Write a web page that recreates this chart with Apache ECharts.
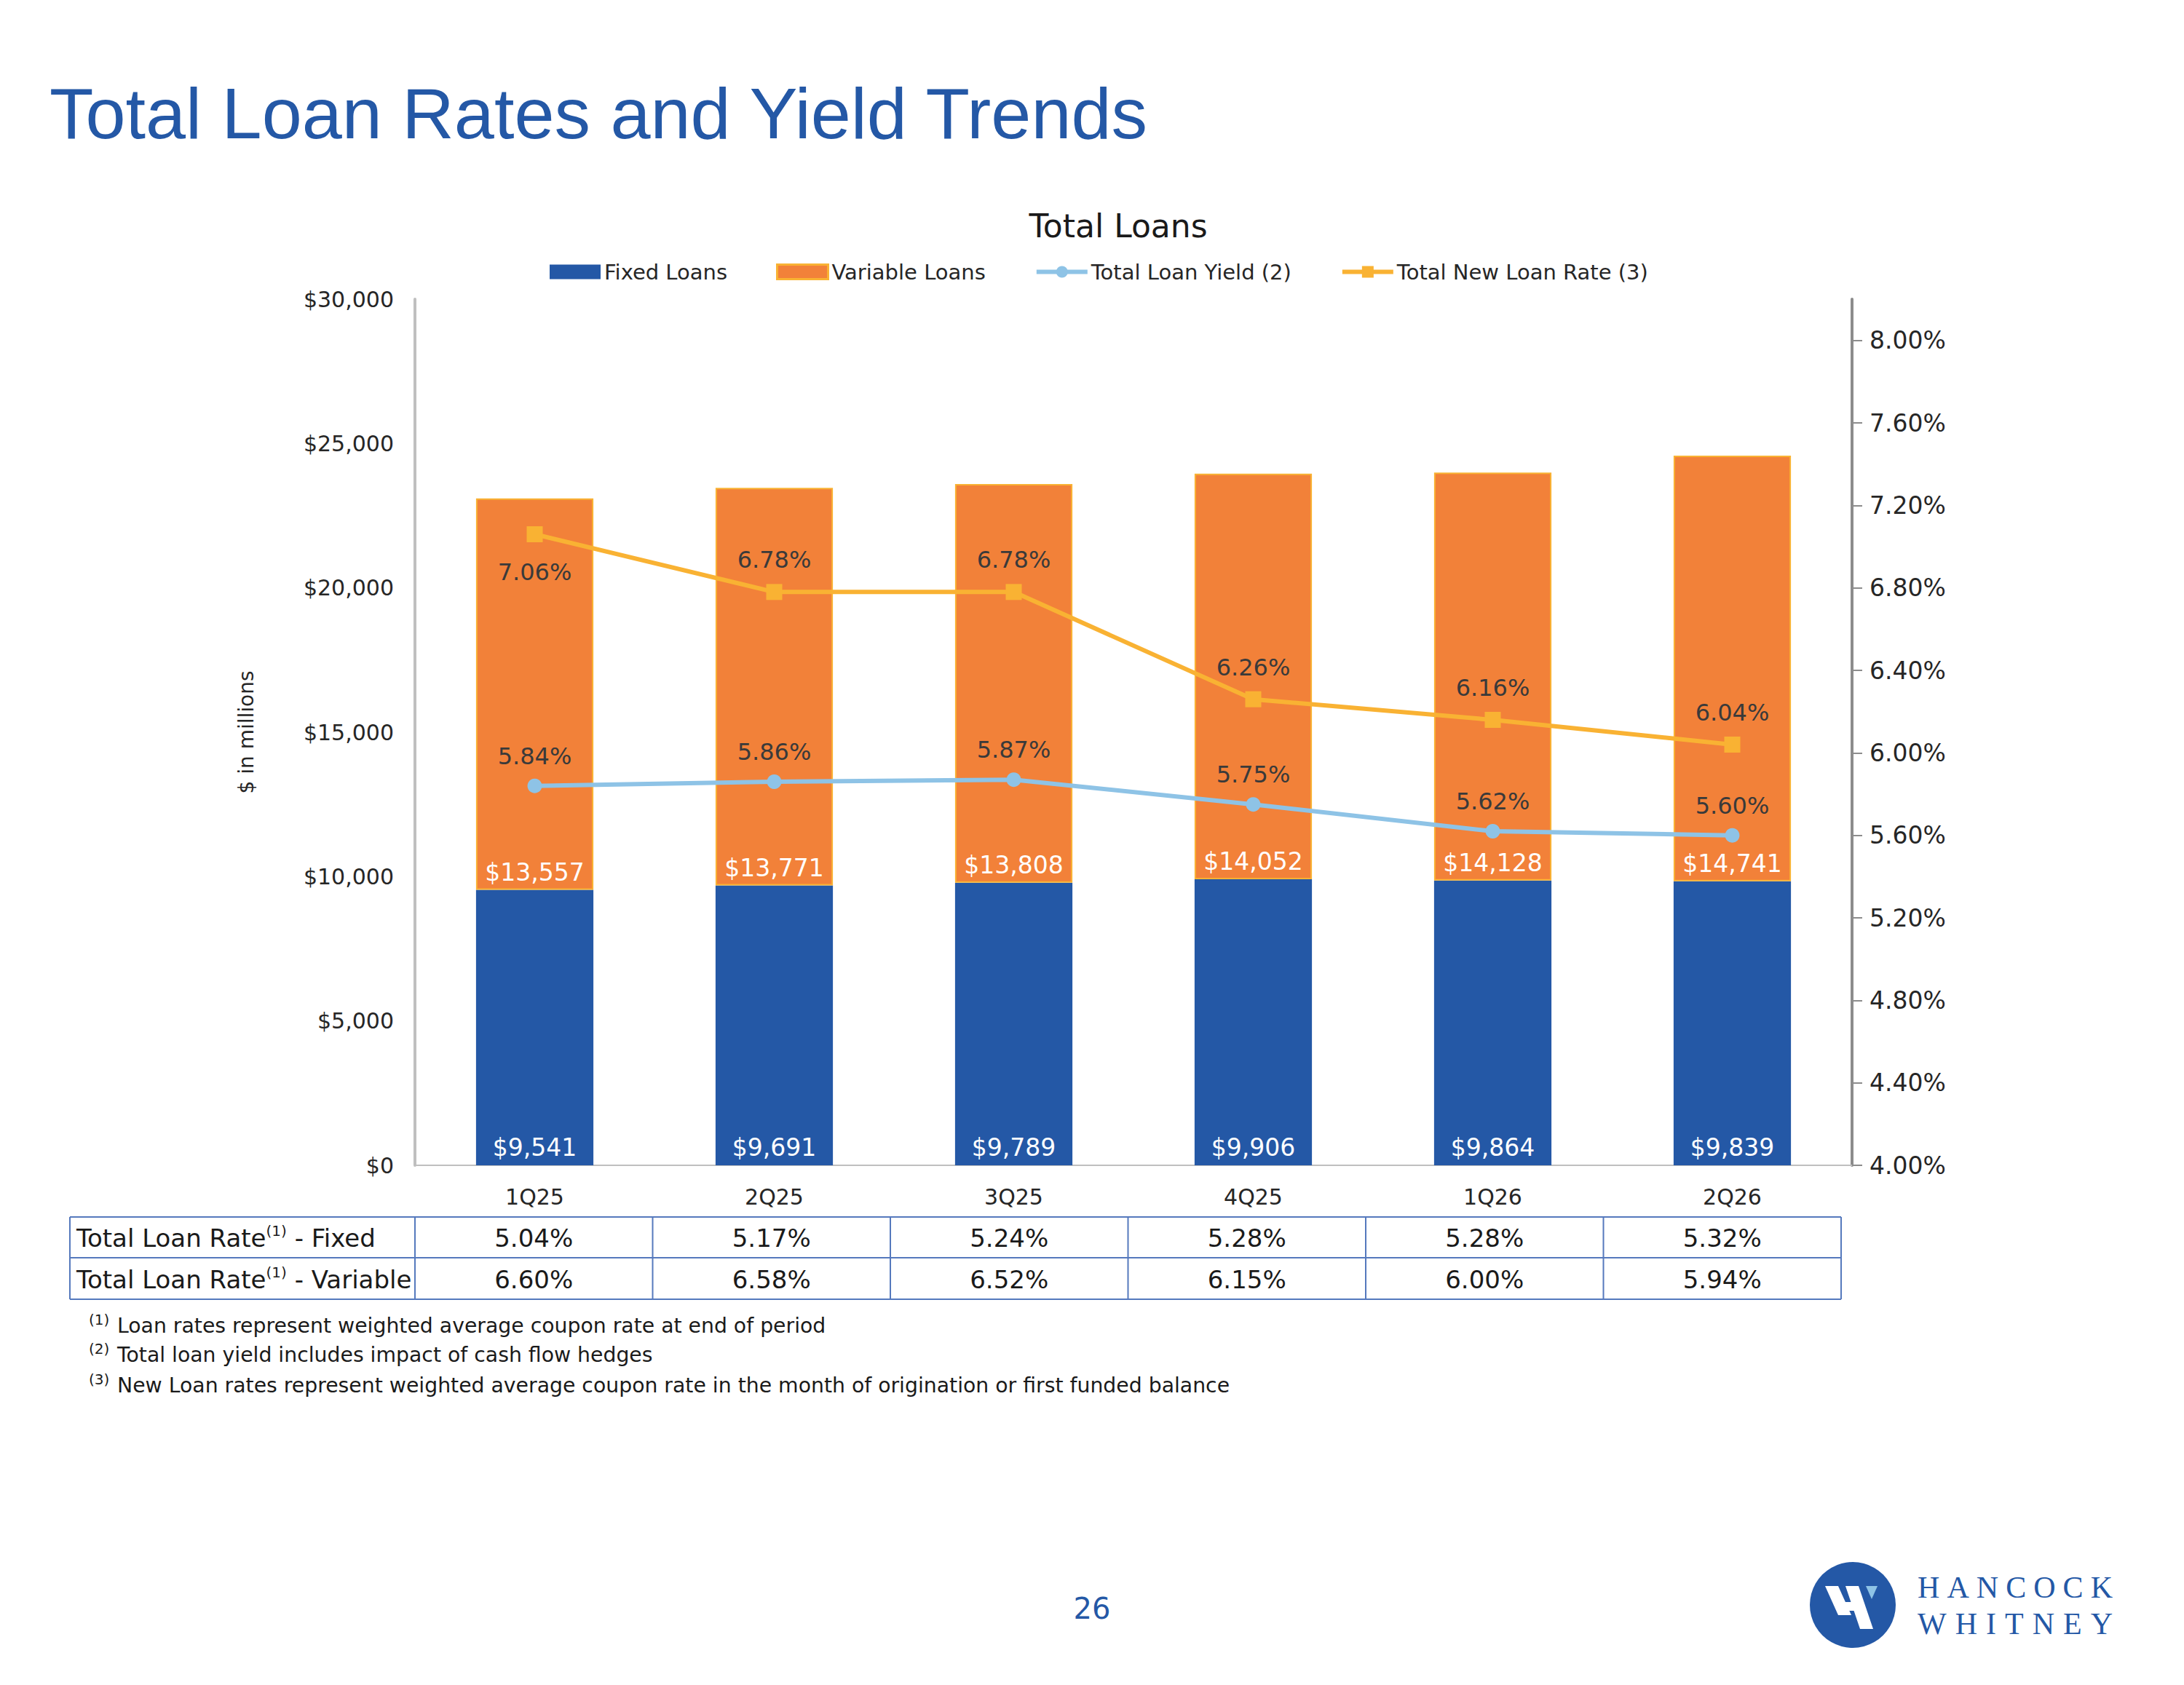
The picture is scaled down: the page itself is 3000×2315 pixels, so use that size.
<!DOCTYPE html>
<html><head><meta charset="utf-8">
<script src="https://cdn.jsdelivr.net/npm/echarts@6/dist/echarts.min.js"></script>
<style>html,body{margin:0;padding:0;background:#fff}#c{width:3000px;height:2315px}</style>
</head><body><div id="c"></div>
<script>
// ---- data ----
const categories = ['1Q25', '2Q25', '3Q25', '4Q25', '1Q26', '2Q26'];
const fixedLoans = [9541, 9691, 9789, 9906, 9864, 9839];
const variableLoans = [13557, 13771, 13808, 14052, 14128, 14741];
const totalLoanYield = [5.84, 5.86, 5.87, 5.75, 5.62, 5.60];
const totalNewLoanRate = [7.06, 6.78, 6.78, 6.26, 6.16, 6.04];
const fixedLoanRate = [5.04, 5.17, 5.24, 5.28, 5.28, 5.32];
const variableLoanRate = [6.60, 6.58, 6.52, 6.15, 6.00, 5.94];
const leftTicks = [0, 5000, 10000, 15000, 20000, 25000, 30000];
const rightTicks = [4.0, 4.4, 4.8, 5.2, 5.6, 6.0, 6.4, 6.8, 7.2, 7.6, 8.0];
const tableRowLabels = ['Total Loan Rate{sup|(1)} - Fixed', 'Total Loan Rate{sup|(1)} - Variable'];
const footnotes = [
  ['(1)', 'Loan rates represent weighted average coupon rate at end of period'],
  ['(2)', 'Total loan yield includes impact of cash flow hedges'],
  ['(3)', 'New Loan rates represent weighted average coupon rate in the month of origination or first funded balance']
];

// ---- style ----
const FONT = '"DejaVu Sans", "Liberation Sans", sans-serif';
const TFONT = '"Liberation Sans", Arial, sans-serif';
const SFONT = '"Liberation Serif", "DejaVu Serif", serif';
const TXT = '#262626';
const BLUE = '#2458a6';
const ORANGE = '#f28139';
const GOLD = '#f9b233';
const LBLUE = '#8ec3e6';

const pct = v => v.toFixed(2) + '%';
const usd = v => '$' + v.toLocaleString('en-US');

const chart = echarts.init(document.getElementById('c'), null, {renderer: 'svg', width: 3000, height: 2315});

const option = {
  animation: false,
  backgroundColor: '#ffffff',
  textStyle: {fontFamily: FONT},
  grid: {left: 570, right: 456, top: 411, bottom: 714, containLabel: false},
  legend: {
    left: 750, top: 354, itemWidth: 70, itemHeight: 20, itemGap: 67,
    textStyle: {fontSize: 29, color: TXT, fontFamily: FONT},
    data: [
      {name: 'Fixed Loans', icon: 'rect'},
      {name: 'Variable Loans', icon: 'rect', itemStyle: {borderWidth: 3}},
      {name: 'Total Loan Yield (2)', lineStyle: {width: 6}, itemStyle: {borderWidth: 0}},
      {name: 'Total New Loan Rate (3)', lineStyle: {width: 6}, itemStyle: {borderWidth: 0}}
    ]
  },
  xAxis: {
    type: 'category', data: categories,
    axisLine: {lineStyle: {color: '#bfbfbf', width: 2}},
    axisTick: {show: false},
    axisLabel: {fontSize: 30, color: TXT, margin: 28, fontFamily: FONT}
  },
  yAxis: [
    {
      type: 'value', min: 0, max: 30000, interval: 5000,
      name: '$ in millions', nameLocation: 'middle', nameGap: 218, nameRotate: 90,
      nameTextStyle: {fontSize: 28, color: TXT, fontFamily: FONT},
      axisLine: {show: true, lineStyle: {color: '#bfbfbf', width: 4}},
      axisTick: {show: false},
      splitLine: {show: false},
      axisLabel: {fontSize: 30, color: TXT, margin: 29, fontFamily: FONT, formatter: v => usd(v)}
    },
    {
      type: 'value', position: 'right', min: 4, max: 8.2, interval: 0.4,
      axisLine: {show: true, lineStyle: {color: '#8c8c8c', width: 4}},
      axisTick: {show: true, length: 14, lineStyle: {color: '#8c8c8c', width: 2}, customValues: rightTicks},
      splitLine: {show: false},
      axisLabel: {customValues: rightTicks, fontSize: 33, color: TXT, margin: 24, fontFamily: FONT, formatter: v => pct(v)}
    }
  ],
  series: [
    {
      name: 'Fixed Loans', type: 'bar', stack: 'loans', barWidth: '49%',
      data: fixedLoans,
      itemStyle: {color: BLUE},
      label: {show: true, position: 'insideBottom', distance: 8, color: '#ffffff', fontSize: 33, fontFamily: FONT, formatter: p => usd(p.value)}
    },
    {
      name: 'Variable Loans', type: 'bar', stack: 'loans', barWidth: '49%',
      data: variableLoans,
      itemStyle: {color: ORANGE, borderColor: GOLD, borderWidth: 2},
      label: {show: true, position: 'insideBottom', distance: 8, color: '#ffffff', fontSize: 33, fontFamily: FONT, formatter: p => usd(p.value)}
    },
    {
      name: 'Total Loan Yield (2)', type: 'line', yAxisIndex: 1,
      data: totalLoanYield,
      symbol: 'circle', symbolSize: 20,
      lineStyle: {color: LBLUE, width: 6},
      itemStyle: {color: LBLUE},
      label: {show: true, position: 'top', distance: 15, color: '#3a3a3a', fontSize: 32, fontFamily: FONT, formatter: p => pct(p.value)},
      z: 5
    },
    {
      name: 'Total New Loan Rate (3)', type: 'line', yAxisIndex: 1,
      data: totalNewLoanRate.map((v, i) => i === 0 ? {value: v, label: {position: 'bottom', distance: 25}} : v),
      symbol: 'rect', symbolSize: 22,
      lineStyle: {color: GOLD, width: 6},
      itemStyle: {color: GOLD},
      label: {show: true, position: 'top', distance: 17, color: '#3a3a3a', fontSize: 32, fontFamily: FONT, formatter: p => pct(p.value)},
      z: 5
    }
  ]
};
chart.setOption(option);

// ---- page elements (title, table, notes, logo) ----
const centers = categories.map((c, i) => chart.convertToPixel({xAxisIndex: 0}, i));
const band = centers[1] - centers[0];
const plotLeft = centers[0] - band / 2;
const tableLeft = 96, tableRight = 2529;
const colW = (tableRight - plotLeft) / categories.length;
const rowY = [1672, 1728, 1785];
const LINE = '#5579bd';

const g = [];
// main title
g.push({type: 'text', z: 10, style: {text: 'Total Loan Rates and Yield Trends', x: 68, y: 155, fill: BLUE,
  font: '99px ' + TFONT, textAlign: 'left', textVerticalAlign: 'middle', align: 'left', verticalAlign: 'middle'}});
// chart title
g.push({type: 'text', z: 10, style: {text: 'Total Loans', x: 1536, y: 310, fill: '#1a1a1a',
  font: '44px ' + FONT, textAlign: 'center', textVerticalAlign: 'middle', align: 'center', verticalAlign: 'middle'}});

// table lines
rowY.forEach(y => g.push({type: 'line', z: 10, shape: {x1: tableLeft, y1: y, x2: tableRight, y2: y}, style: {stroke: LINE, lineWidth: 2}}));
g.push({type: 'line', z: 10, shape: {x1: tableLeft, y1: rowY[0], x2: tableLeft, y2: rowY[2]}, style: {stroke: LINE, lineWidth: 2}});
for (let i = 0; i <= categories.length; i++) {
  const x = plotLeft + i * colW;
  g.push({type: 'line', z: 10, shape: {x1: x, y1: rowY[0], x2: x, y2: rowY[2]}, style: {stroke: LINE, lineWidth: 2}});
}
// table text
const rows = [fixedLoanRate, variableLoanRate];
rows.forEach((vals, r) => {
  const cy = (rowY[r] + rowY[r + 1]) / 2 + 1;
  g.push({type: 'text', z: 11, style: {text: tableRowLabels[r], x: 105, y: cy, fill: '#1a1a1a',
    fontSize: 34, fontFamily: FONT, textAlign: 'left', textVerticalAlign: 'middle', align: 'left', verticalAlign: 'middle',
    rich: {sup: {fontSize: 20, fontFamily: FONT, fill: '#1a1a1a', verticalAlign: 'top', lineHeight: 40}}}});
  vals.forEach((v, i) => {
    g.push({type: 'text', z: 11, style: {text: pct(v), x: plotLeft + (i + 0.5) * colW, y: cy, fill: '#1a1a1a',
      fontSize: 34, fontFamily: FONT, textAlign: 'center', textVerticalAlign: 'middle', align: 'center', verticalAlign: 'middle'}});
  });
});
// footnotes
const fnY = [1821, 1861, 1903];
footnotes.forEach((f, i) => {
  g.push({type: 'text', z: 11, style: {text: f[0], x: 122, y: fnY[i] - 8, fill: '#1a1a1a', fontSize: 20, fontFamily: FONT,
    textAlign: 'left', textVerticalAlign: 'middle', align: 'left', verticalAlign: 'middle'}});
  g.push({type: 'text', z: 11, style: {text: f[1], x: 161, y: fnY[i], fill: '#1a1a1a', fontSize: 28.3, fontFamily: FONT,
    textAlign: 'left', textVerticalAlign: 'middle', align: 'left', verticalAlign: 'middle'}});
});
// page number
g.push({type: 'text', z: 11, style: {text: '26', x: 1500, y: 2210, fill: BLUE, fontSize: 40, fontFamily: FONT,
  textAlign: 'center', textVerticalAlign: 'middle', align: 'center', verticalAlign: 'middle'}});
// logo
const cx = 2545, cy0 = 2205;
g.push({type: 'circle', z: 10, shape: {cx: cx, cy: cy0, r: 59}, style: {fill: BLUE}});
const P = pts => pts.map(p => [cx + p[0], cy0 + p[1]]);
g.push({type: 'polygon', z: 11, shape: {points: P([[-38, -26], [-20, -26], [-2, 14], [-20, 14]])}, style: {fill: '#fff'}});
g.push({type: 'polygon', z: 11, shape: {points: P([[-18, -4], [8, -4], [12, 8], [-14, 8]])}, style: {fill: '#fff'}});
g.push({type: 'polygon', z: 11, shape: {points: P([[-10, -26], [8, -26], [28, 33], [10, 33]])}, style: {fill: '#fff'}});
g.push({type: 'polygon', z: 11, shape: {points: P([[18, -26], [34, -26], [26, -8]])}, style: {fill: LBLUE}});
const mctx = document.createElement('canvas').getContext('2d');
mctx.font = '42px ' + SFONT;
['HANCOCK', 'WHITNEY'].forEach((word, wi) => {
  const widths = word.split('').map(ch => mctx.measureText(ch).width);
  const total = widths.reduce((a, b) => a + b, 0);
  const sp = (268 - total) / (word.length - 1);
  let x = 2634;
  for (let k = 0; k < word.length; k++) {
    g.push({type: 'text', z: 11, style: {text: word[k], x: x, y: wi === 0 ? 2181 : 2231, fill: BLUE,
      fontSize: 42, fontFamily: SFONT,
      textAlign: 'left', textVerticalAlign: 'middle', align: 'left', verticalAlign: 'middle'}});
    x += widths[k] + sp;
  }
});

chart.setOption({graphic: {elements: g}});
</script>
</body></html>
